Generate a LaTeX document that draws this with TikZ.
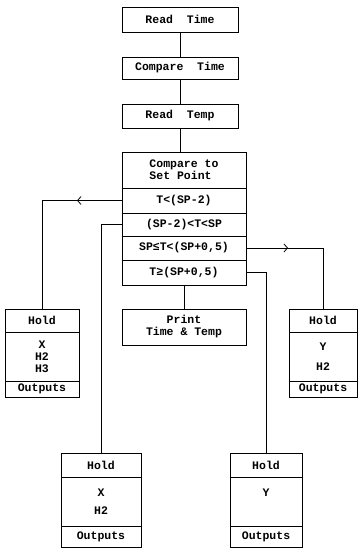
\documentclass[tikz,border=0pt]{standalone}
\usepackage{fontspec}
\newfontfamily\typefont{Liberation Mono}
\usetikzlibrary{positioning, arrows.meta, decorations.markings}

\begin{document}
\begin{tikzpicture}[
  x=1pt, y=-1pt,
  font=\typefont\bfseries\fontsize{11.5}{12}\selectfont,
  box/.style={draw, line width=0.8pt, inner sep=0pt, outer sep=0pt, align=center},
  conn/.style={line width=0.8pt},
  midtip/.style={postaction={decorate}, decoration={markings,
    mark=at position #1 with {\arrow{Straight Barb[length=3.5pt, width=8pt]}}}}
]
  \useasboundingbox (0,0) rectangle (359,548);

  % main chain
  \node[box, minimum width=116pt, minimum height=25pt] (rtime) at (180,19.5) {Read\ \ Time};
  \node[box, minimum width=116pt, minimum height=22pt] (ctime) at (180,68) {Compare\ \ Time};
  \node[box, minimum width=116pt, minimum height=24pt] (rtemp) at (180,116) {Read\ \ Temp};

  % compare to set point
  \node[box, align=left, minimum width=124pt, minimum height=36pt] (cmp) at (184,170) {Compare to\\Set Point};
  \node[box, minimum width=124pt, minimum height=25pt, below=0pt of cmp] (low) {T<(SP-2)};
  \node[box, minimum width=124pt, minimum height=23pt, below=0pt of low] (under) {(SP-2)<T<SP};
  \node[box, minimum width=124pt, minimum height=24pt, below=0pt of under] (near) {SP≤T<(SP+0,5)};
  \node[box, minimum width=124pt, minimum height=25pt, below=0pt of near] (high) {T≥(SP+0,5)};

  \node[box, minimum width=124pt, minimum height=36pt] (print) at (184,327) {Print\\Time \& Temp};

  % hold boxes
  \node[box, minimum width=74pt, minimum height=23pt] (holdl) at (42,320.5) {Hold};
  \node[box, minimum width=74pt, minimum height=49pt, below=0pt of holdl] (valsl) {X\\H2\\H3};
  \node[box, minimum width=74pt, minimum height=16pt, below=0pt of valsl] (outl) {Outputs};

  \node[box, minimum width=68pt, minimum height=23pt] (holdr) at (323,320.5) {Hold};
  \node[box, minimum width=68pt, minimum height=49pt, below=0pt of holdr] (valsr) {Y\\[8pt]H2};
  \node[box, minimum width=68pt, minimum height=16pt, below=0pt of valsr] (outr) {Outputs};

  \node[box, minimum width=80pt, minimum height=24pt] (holdx) at (101,465) {Hold};
  \node[box, minimum width=80pt, minimum height=49pt, below=0pt of holdx] (valsx) {X\\[6pt]H2};
  \node[box, minimum width=80pt, minimum height=21pt, below=0pt of valsx] (outx) {Outputs};

  \node[box, minimum width=72pt, minimum height=24pt] (holdy) at (266,465) {Hold};
  \node[box, minimum width=72pt, minimum height=49pt, below=0pt of holdy] (valsy) {Y\\[6pt]\phantom{H2}};
  \node[box, minimum width=72pt, minimum height=21pt, below=0pt of valsy] (outy) {Outputs};

  % connectors
  \draw[conn] (rtime) -- (ctime);
  \draw[conn] (ctime) -- (rtemp);
  \draw[conn] (rtemp.south) -- (rtemp.south |- cmp.north);
  \draw[conn] (high.south) -- (print.north);
  \draw[conn, midtip=45pt] (low.west) -| (holdl.north);
  \draw[conn] (under.west) -| (holdx.north);
  \draw[conn, midtip=42pt] (near.east) -| (holdr.north);
  \draw[conn] (high.east) -| (holdy.north);
\end{tikzpicture}
\end{document}
